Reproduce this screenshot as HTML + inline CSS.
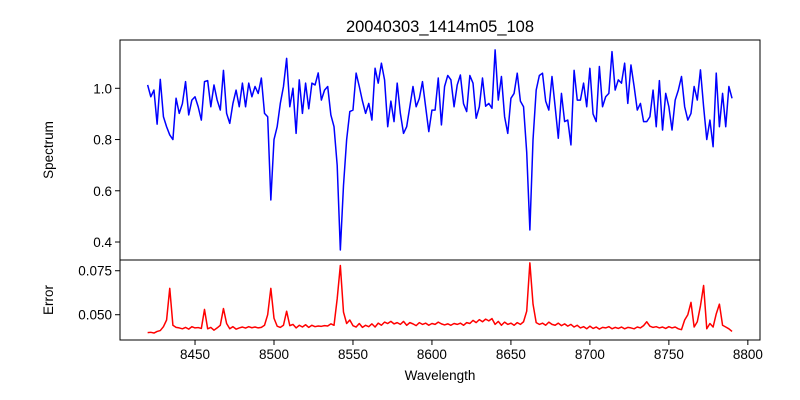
<!DOCTYPE html>
<html><head><meta charset="utf-8"><style>
html,body{margin:0;padding:0;background:#fff;}
svg{display:block;font-family:"Liberation Sans","DejaVu Sans",sans-serif;}
</style></head><body>
<svg id="chart" width="800" height="400" viewBox="0 0 800 400"></svg>
<script>
const waveStart = 8420;
const waveStep = 2;
const flux = [1.013,0.967,0.993,0.86,1.035,0.889,0.85,0.818,0.80,0.961,0.902,0.94,1.026,0.896,0.954,0.967,0.928,0.876,1.026,1.03,
0.928,1.013,0.954,0.915,1.07,0.902,0.863,0.941,0.993,0.928,1.02,0.928,1.02,0.967,1.007,0.98,1.04,0.902,0.889,0.564,
0.80,0.85,0.941,1.007,1.117,0.928,1.0,0.824,1.033,0.902,1.02,0.92,1.02,1.013,1.06,0.954,0.993,1.007,0.896,0.85,
0.70,0.369,0.62,0.80,0.909,0.915,1.059,1.007,0.95,0.902,0.941,0.876,1.078,1.02,1.098,1.033,0.85,0.95,0.87,1.02,
0.902,0.824,0.85,0.928,1.007,0.928,0.96,1.026,0.928,0.831,0.915,0.915,1.04,0.857,1.007,1.05,1.033,0.928,1.013,1.052,
0.94,0.909,1.05,1.02,0.883,0.928,1.04,0.93,0.941,0.922,1.15,0.954,1.046,0.889,0.824,0.961,0.98,1.059,0.95,0.928,
0.75,0.447,0.80,0.993,1.05,1.059,0.95,0.915,1.046,0.928,0.805,0.98,0.87,0.876,0.779,1.07,0.954,0.954,1.02,0.928,
1.078,0.90,0.87,1.085,0.928,0.967,0.98,1.143,0.993,1.033,1.02,1.098,0.941,1.091,1.007,0.915,0.941,0.87,0.87,0.889,
0.993,0.85,1.03,0.837,0.98,0.928,0.837,0.954,0.993,1.046,0.928,0.876,0.902,1.007,0.954,1.072,0.928,0.80,0.876,0.772,
1.059,0.85,0.98,0.85,1.007,0.961];
const err = [.0398,.0400,.0396,.0405,.0410,.0432,.0470,.0650,.0440,.0428,.0425,.0420,.0428,.0418,.0432,.0425,.0427,.0422,.0530,.0420,
.0428,.0412,.0425,.0440,.0535,.0450,.0420,.0432,.0418,.0425,.0430,.0424,.0432,.0426,.0430,.0425,.0428,.0440,.0500,.0650,
.0480,.0435,.0428,.0440,.0520,.0438,.0445,.0425,.0440,.0430,.0443,.0428,.0440,.0432,.0436,.0434,.0438,.0436,.0448,.0440,
.0590,.0780,.0515,.0450,.0470,.0438,.0430,.0450,.0428,.0440,.0432,.0448,.0430,.0452,.0440,.0458,.0450,.0462,.0448,.0455,
.0445,.0462,.0440,.0455,.0448,.0438,.0455,.0445,.0452,.0440,.0450,.0445,.0458,.0448,.0442,.0448,.0440,.0450,.0445,.0452,
.0440,.0455,.0450,.0468,.0455,.0472,.0460,.0475,.0465,.0478,.0445,.0462,.0440,.0458,.0445,.0452,.0440,.0455,.0445,.0460,
.0520,.0795,.0560,.0455,.0445,.0452,.0440,.0458,.0445,.0440,.0452,.0438,.0448,.0435,.0445,.0430,.0440,.0425,.0432,.0420,
.0435,.0422,.0430,.0418,.0428,.0425,.0432,.0420,.0428,.0422,.0430,.0420,.0428,.0425,.0420,.0430,.0425,.0438,.0460,.0435,
.0428,.0432,.0425,.0430,.0422,.0432,.0425,.0430,.0420,.0415,.0470,.0500,.0570,.0430,.0460,.0550,.0666,.0420,.0450,.0430,
.0505,.0560,.0440,.0430,.0420,.0405];
const xTicks = [8450,8500,8550,8600,8650,8700,8750,8800];
const fluxTicks = [0.4,0.6,0.8,1.0];
const errTicks = [0.050,0.075];
const fluxTickLabels = ["0.4","0.6","0.8","1.0"];
const errTickLabels = ["0.050","0.075"];

const NS="http://www.w3.org/2000/svg";
const svg=document.getElementById('chart');
const L=120,R=760,T1=40,B1=260,T2=260,B2=340;
const X0=8402.5,X1=8807.7;
const F0=0.3298,F1=1.1885;
const E0=0.03563,E1=0.0811;
const xs=v=>L+(v-X0)/(X1-X0)*(R-L);
const yf=v=>B1-(v-F0)/(F1-F0)*(B1-T1);
const ye=v=>B2-(v-E0)/(E1-E0)*(B2-T2);
function mk(tag,attrs,parent){const e=document.createElementNS(NS,tag);for(const k in attrs)e.setAttribute(k,attrs[k]);(parent||svg).appendChild(e);return e;}

const clip=mk('defs',{});
const c1=mk('clipPath',{id:'c1'},clip);mk('rect',{x:L,y:T1,width:R-L,height:B1-T1},c1);
const c2=mk('clipPath',{id:'c2'},clip);mk('rect',{x:L,y:T2,width:R-L,height:B2-T2},c2);

let d='';flux.forEach((v,i)=>{d+=(i?'L':'M')+xs(waveStart+i*waveStep).toFixed(2)+','+yf(v).toFixed(2);});
const p1=mk('path',{d:d,fill:'none',stroke:'#0000ff','stroke-width':1.5,'stroke-linejoin':'round','clip-path':'url(#c1)'});


d='';err.forEach((v,i)=>{d+=(i?'L':'M')+xs(waveStart+i*waveStep).toFixed(2)+','+ye(v).toFixed(2);});
const p2=mk('path',{d:d,fill:'none',stroke:'#ff0000','stroke-width':1.5,'stroke-linejoin':'round','clip-path':'url(#c2)'});



const f1=mk('rect',{x:L,y:T1,width:R-L,height:B1-T1,fill:'none',stroke:'#000','stroke-width':1});


const f2=mk('rect',{x:L,y:T2,width:R-L,height:B2-T2,fill:'none',stroke:'#000','stroke-width':1});



xTicks.forEach(t=>{const x=xs(t);
 mk('line',{x1:x,x2:x,y1:B2,y2:B2+5,stroke:'#000','stroke-width':1});
 const tx=mk('text',{x:x,y:B2+19,'text-anchor':'middle','font-size':13.5,fill:'#000'});tx.textContent=t;
 
 
});
fluxTicks.forEach((t,i)=>{const y=yf(t);
 mk('line',{x1:L-5,x2:L,y1:y,y2:y,stroke:'#000','stroke-width':1});
 const tx=mk('text',{x:L-8,y:y+5,'text-anchor':'end','font-size':13.5,fill:'#000'});tx.textContent=fluxTickLabels[i];
 
 
});
errTicks.forEach((t,i)=>{const y=ye(t);
 mk('line',{x1:L-5,x2:L,y1:y,y2:y,stroke:'#000','stroke-width':1});
 const tx=mk('text',{x:L-8,y:y+5,'text-anchor':'end','font-size':13.5,fill:'#000'});tx.textContent=errTickLabels[i];
 
 
});
</script>
<script>
(function(){
const svg=document.getElementById('chart');const NS="http://www.w3.org/2000/svg";
function t(txt,x,y,size,name,rot){const e=document.createElementNS(NS,'text');e.setAttribute('x',x);e.setAttribute('y',y);e.setAttribute('font-size',size);e.setAttribute('text-anchor','middle');if(rot)e.setAttribute('transform','rotate(-90 '+x+' '+y+')');e.textContent=txt;svg.appendChild(e);return e;}
const a=t('20040303_1414m05_108',440,32,16.5);


const b=t('Spectrum',53,150,13.5,null,true);


const c=t('Error',53,300,13.5,null,true);


const dd=t('Wavelength',440,380,13.5);


})();
</script>
</body></html>
